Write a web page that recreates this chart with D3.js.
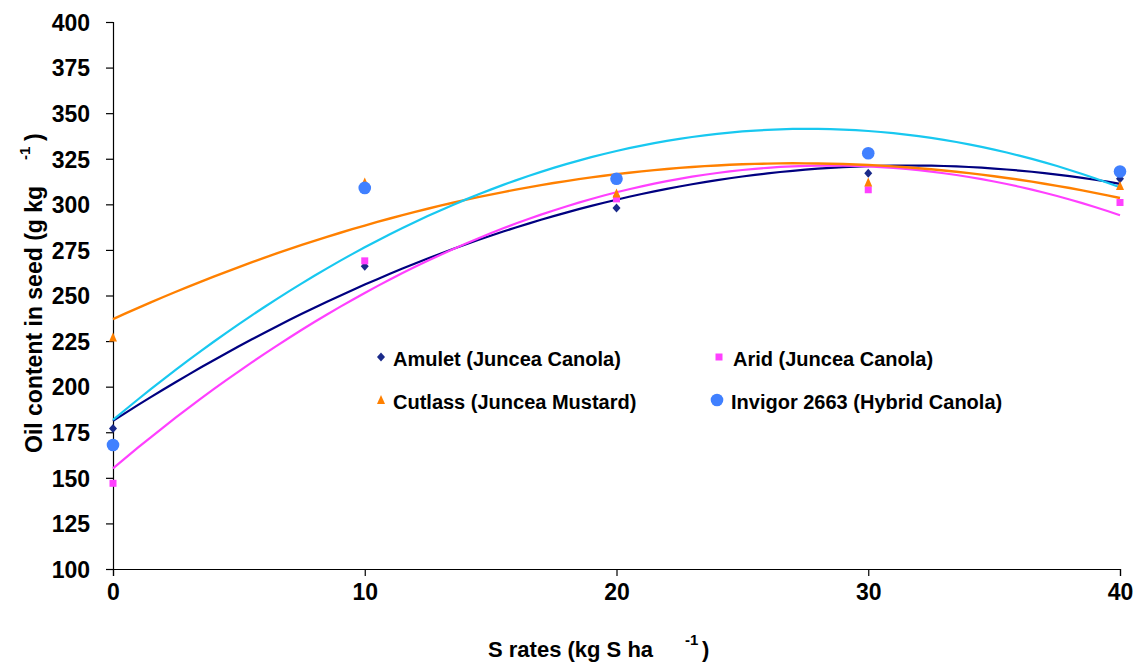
<!DOCTYPE html>
<html><head><meta charset="utf-8">
<script src="https://cdn.jsdelivr.net/npm/d3@7"></script>
<style>body{margin:0;background:#fff}svg{display:block}text{font-family:"Liberation Sans",Arial,sans-serif;font-weight:bold;fill:#000}</style>
</head><body><svg id="c" width="1138" height="667"></svg>
<script>
const sRates = [0, 10, 20, 30, 40];
const seriesNames = ["Amulet (Juncea Canola)", "Arid (Juncea Canola)", "Cutlass (Juncea Mustard)", "Invigor 2663 (Hybrid Canola)"];
const amulet = [177, 266, 298, 317, 314];
const arid = [147, 269, 303, 308, 301];
const cutlass = [227, 312, 306, 312, 310];
const invigor = [168, 309, 314, 328, 318];
const yTicks = [100,125,150,175,200,225,250,275,300,325,350,375,400];
const xTicks = [0,10,20,30,40];

const series = [
  {name: seriesNames[0], vals: amulet, marker: "diamond", mcol: "#1a2a8a", lcol: "#000080", lw: 2.2},
  {name: seriesNames[1], vals: arid, marker: "square", mcol: "#ff40ff", lcol: "#ff40ff", lw: 2.2},
  {name: seriesNames[2], vals: cutlass, marker: "triangle", mcol: "#ff8000", lcol: "#ff8000", lw: 2.4},
  {name: seriesNames[3], vals: invigor, marker: "circle", mcol: "#4080ff", lcol: "#18c8f0", lw: 2.2}
];

const svg = d3.select("#c");
const x = d3.scaleLinear().domain([0, 40]).range([113, 1120]);
const y = d3.scaleLinear().domain([100, 400]).range([569, 22]);

// quadratic least squares fit (polynomial trendline, order 2)
function quadFit(xs, ys) {
  const n = xs.length;
  let S = [0,0,0,0,0], T = [0,0,0];
  for (let i = 0; i < n; i++) {
    for (let k = 0; k < 5; k++) S[k] += Math.pow(xs[i], k);
    for (let k = 0; k < 3; k++) T[k] += ys[i] * Math.pow(xs[i], k);
  }
  const A = [[S[0],S[1],S[2],T[0]],[S[1],S[2],S[3],T[1]],[S[2],S[3],S[4],T[2]]];
  for (let i = 0; i < 3; i++) {
    for (let j = i+1; j < 3; j++) {
      const f = A[j][i]/A[i][i];
      for (let k = i; k < 4; k++) A[j][k] -= f*A[i][k];
    }
  }
  const c = [0,0,0];
  for (let i = 2; i >= 0; i--) {
    let s = A[i][3];
    for (let k = i+1; k < 3; k++) s -= A[i][k]*c[k];
    c[i] = s/A[i][i];
  }
  return t => c[0] + c[1]*t + c[2]*t*t;
}

// axes
const yAxis = d3.axisLeft(y).tickValues(yTicks).tickSize(7).tickPadding(16);
const gy = svg.append("g").attr("transform", "translate(113,0)").call(yAxis);
const xAxis = d3.axisBottom(x).tickValues(xTicks).tickSize(7).tickPadding(7);
const gx = svg.append("g").attr("transform", "translate(0,569)").call(xAxis);
[gy, gx].forEach(g => {
  g.select(".domain").attr("stroke", "#000").attr("stroke-width", 1.2);
  g.selectAll(".tick line").attr("stroke", "#000").attr("stroke-width", 1.2);
  g.selectAll(".tick text").style("font-size", "23px").style("font-family", "'Liberation Sans',Arial,sans-serif").style("font-weight", "bold").attr("fill", "#000");
});
gy.selectAll(".tick text").attr("dy", "0.36em");
gx.selectAll(".tick text").attr("dy", "0.72em");

// trendlines
const xsFine = d3.range(0, 40.001, 0.5);
series.forEach(s => {
  const f = quadFit(sRates, s.vals);
  svg.append("path")
    .datum(xsFine)
    .attr("fill", "none")
    .attr("stroke", s.lcol)
    .attr("stroke-width", s.lw)
    .attr("d", d3.line().x(d => x(d)).y(d => y(f(d))));
});

// markers
function drawMarker(g, type, col, cx, cy) {
  if (type === "diamond") {
    g.append("path").attr("d", `M${cx},${cy-4.5}L${cx+4},${cy}L${cx},${cy+4.5}L${cx-4},${cy}Z`).attr("fill", col);
  } else if (type === "square") {
    g.append("rect").attr("x", cx-3.5).attr("y", cy-3.5).attr("width", 7).attr("height", 7).attr("fill", col);
  } else if (type === "triangle") {
    g.append("path").attr("d", `M${cx},${cy-5}L${cx+4},${cy+4}L${cx-4},${cy+4}Z`).attr("fill", col);
  } else {
    g.append("circle").attr("cx", cx).attr("cy", cy).attr("r", 6.3).attr("fill", col);
  }
}
const mg = svg.append("g");
series.forEach(s => {
  s.vals.forEach((v, i) => drawMarker(mg, s.marker, s.mcol, x(sRates[i]), y(v)));
});

// legend
const legPos = [[381, 357], [719, 357], [381, 400], [717, 400]];
const lg = svg.append("g");
series.forEach((s, i) => {
  const [lx, ly] = legPos[i];
  drawMarker(lg, s.marker, s.mcol, lx, ly);
  lg.append("text").attr("x", lx + (i % 2 ? 14 : 12)).attr("y", ly + 5)
    .attr("dy", "0.2em")
    .style("font-size", "20px").text(s.name);
});

// axis titles
const xt = svg.append("text").attr("x", 488).attr("y", 657).style("font-size", "22px");
xt.append("tspan").text("S rates (kg S ha");
xt.append("tspan").attr("x", 685).attr("y", 645).style("font-size", "15px").text("-1");
xt.append("tspan").attr("x", 702).attr("y", 657).text(")");

const yt = svg.append("text").attr("transform", "translate(42,453) rotate(-90)").style("font-size", "23px");
yt.append("tspan").attr("x", 0).attr("y", 0).text("Oil content in seed (g kg");
yt.append("tspan").attr("x", 293).attr("y", -12).style("font-size", "15px").text("-1");
yt.append("tspan").attr("x", 312).attr("y", 0).text(")");
</script></body></html>
